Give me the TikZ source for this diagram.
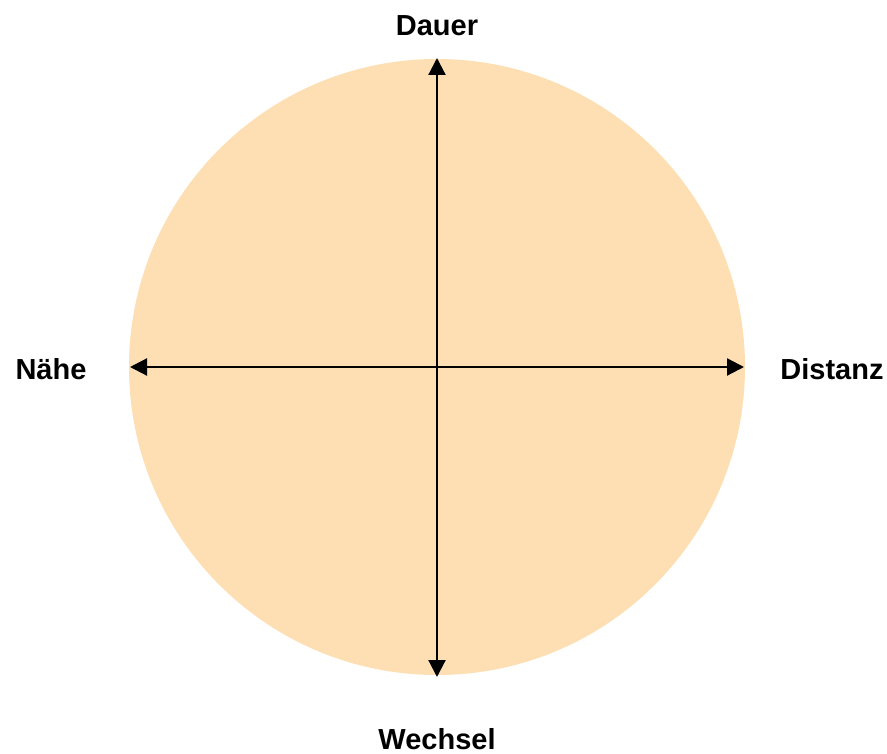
\documentclass[tikz,border=0pt]{standalone}
\usepackage{fontspec}
\setmainfont{Liberation Sans}
\usetikzlibrary{arrows.meta}
\definecolor{peach}{HTML}{FDDFB3}
\begin{document}
\begin{tikzpicture}[x=1pt,y=-1pt,
  axis/.style={line width=2.2pt,{Triangle[length=17pt,width=17pt]}-{Triangle[length=17pt,width=17pt]}},
  lbl/.style={font=\fontsize{29}{34}\selectfont\bfseries,inner sep=0pt}]
\useasboundingbox (0,0) rectangle (887,754);
\fill[peach] (437,367) circle[radius=308];
\coordinate (top) at (437,58);
\coordinate (bot) at (437,677);
\coordinate (lft) at (130,367);
\coordinate (rgt) at (744,367);
\draw[axis] (bot) -- (top);
\draw[axis] (lft) -- (rgt);
\node[lbl] (dauer) at (437,26) {Dauer};
\node[lbl] (wechsel) at (437,739) {Wechsel};
\node[lbl] (naehe) at (51,369) {Nähe};
\node[lbl] (distanz) at (832,369) {Distanz};
\end{tikzpicture}
\end{document}
